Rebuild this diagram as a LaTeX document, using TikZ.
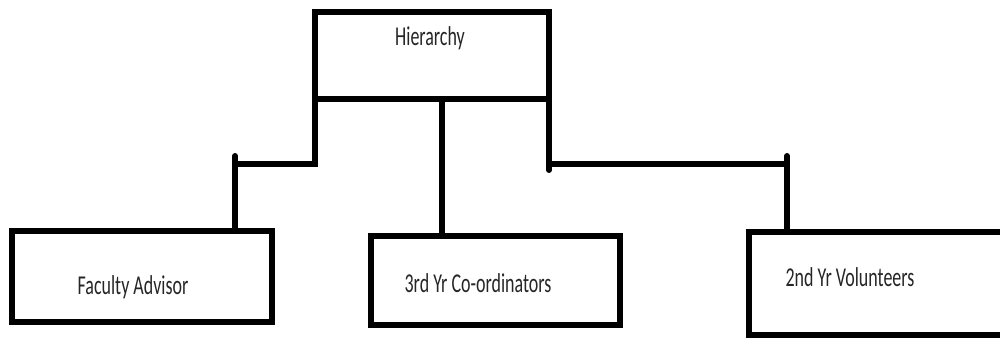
\documentclass[tikz,border=0pt]{standalone}
\usepackage{fontspec}
\usepackage{tikz}
\usetikzlibrary{positioning,calc}
\newfontfamily\orgfont{Carlito}[FakeStretch=0.66]
\tikzset{
  orgbox/.style  = {rectangle, draw=black, line width=3.8pt, fill=white,
                    inner sep=0pt, outer sep=0pt},
  orglbl/.style  = {font=\orgfont\fontsize{15.5}{17}\selectfont, text=black!85,
                    inner sep=0pt},
  orglink/.style = {draw=black, line width=3.4pt, line cap=round},
}

\begin{document}
\begin{tikzpicture}
  \useasboundingbox (0,0) rectangle (20,6.74);

  % boxes
  \node[orgbox, minimum width=4.68cm, minimum height=1.74cm] (hier)  at (8.64,5.63) {};
  \node[orgbox, minimum width=5.20cm, minimum height=1.82cm] (fac)   at (2.84,1.21) {};
  \node[orgbox, minimum width=4.98cm, minimum height=1.78cm] (coord) at (9.91,1.13) {};
  \node[orgbox, minimum width=6.02cm, minimum height=2.06cm] (vol)   at (17.99,1.07) {};

  % texts
  \node[orglbl] (hiertxt)  at (8.60,5.98)  {Hierarchy};
  \node[orglbl] (factxt)   at (2.66,1.00)  {Faculty Advisor};
  \node[orglbl] (coordtxt) at (9.56,1.08)  {3rd Yr Co-ordinators};
  \node[orglbl] (voltxt)   at (17.00,1.20) {2nd Yr Volunteers};

  % joints
  \coordinate (lj) at (4.70,3.46);
  \coordinate (rj) at (15.74,3.46);

  \draw[orglink] (hier.south west) |- (lj);
  \draw[orglink] ([yshift=1.6mm]lj) -- (fac.north -| lj);
  \draw[orglink] ([xshift=2mm]hier.south) -- ([xshift=2mm]hier.south |- coord.north);
  \draw[orglink] (hier.south east) -- ([yshift=-1.2mm]hier.south east |- rj);
  \draw[orglink] (hier.south east |- rj) -- (rj);
  \draw[orglink] ([yshift=1.6mm]rj) -- (vol.north -| rj);
\end{tikzpicture}
\end{document}
